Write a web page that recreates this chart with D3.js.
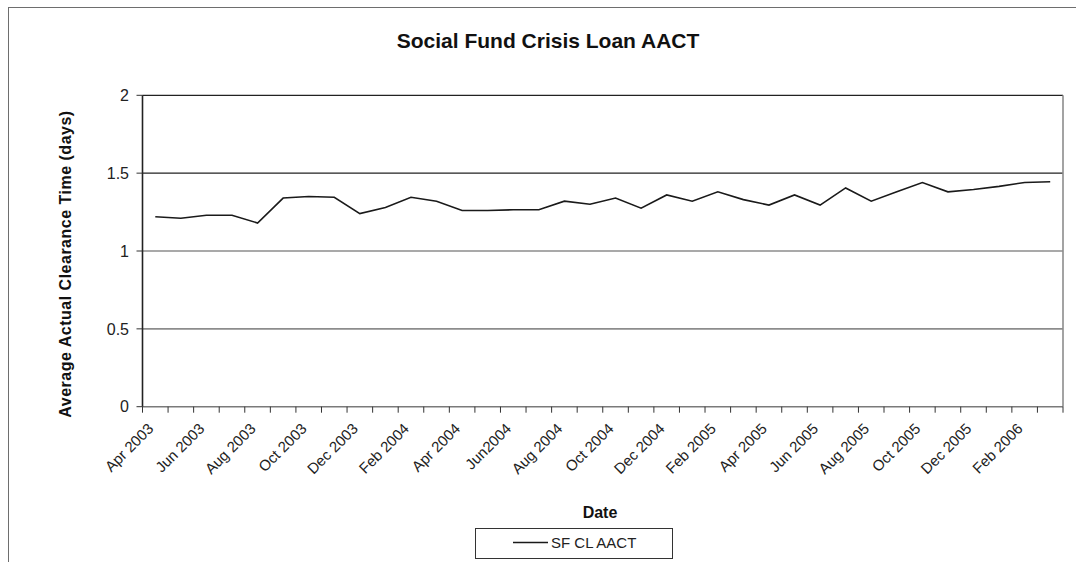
<!DOCTYPE html>
<html lang="en">
  <head>
    <meta charset="UTF-8" />
    <title>Social Fund Crisis Loan AACT</title>
    <script src="https://cdn.jsdelivr.net/npm/d3@7"></script>
    <style>
      body { margin: 0; background: #fff; }
      svg { font-family: "Liberation Sans", Arial, sans-serif; }
    </style>
  </head>
  <body>
    <svg id="chart" width="1076" height="562"></svg>
    <script>
      // monthly categories, Apr 2003 - Mar 2006
      const months = [
        "Apr 2003", "May 2003", "Jun 2003", "Jul 2003", "Aug 2003", "Sep 2003",
        "Oct 2003", "Nov 2003", "Dec 2003", "Jan 2004", "Feb 2004", "Mar 2004",
        "Apr 2004", "May 2004", "Jun2004", "Jul 2004", "Aug 2004", "Sep 2004",
        "Oct 2004", "Nov 2004", "Dec 2004", "Jan 2005", "Feb 2005", "Mar 2005",
        "Apr 2005", "May 2005", "Jun 2005", "Jul 2005", "Aug 2005", "Sep 2005",
        "Oct 2005", "Nov 2005", "Dec 2005", "Jan 2006", "Feb 2006", "Mar 2006"
      ];
      // SF CL AACT (days)
      const aact = [
        1.22, 1.21, 1.23, 1.23, 1.18, 1.34, 1.35, 1.345, 1.24, 1.28, 1.345, 1.32,
        1.26, 1.26, 1.265, 1.265, 1.32, 1.30, 1.34, 1.275, 1.36, 1.32, 1.38, 1.33,
        1.295, 1.36, 1.295, 1.405, 1.32, 1.38, 1.44, 1.38, 1.395, 1.415, 1.44, 1.445
      ];
      const yTicks = [0, 0.5, 1, 1.5, 2];

      const svg = d3.select("#chart");

      const x = d3.scaleBand().domain(months).range([142.5, 1063]).padding(0);
      const y = d3.scaleLinear().domain([0, 2]).range([406.7, 95.3]);
      const cx = (d) => x(d) + x.bandwidth() / 2;

      // chart frame
      svg.append("rect")
        .attr("x", 8.5).attr("y", 7.5)
        .attr("width", 1200).attr("height", 700)
        .attr("fill", "none").attr("stroke", "#6e6e6e");

      // title
      svg.append("text")
        .attr("x", 548).attr("y", 48)
        .attr("text-anchor", "middle")
        .attr("font-size", 21).attr("font-weight", "bold")
        .attr("fill", "#111")
        .text("Social Fund Crisis Loan AACT");

      // gridlines
      svg.append("g").selectAll("line")
        .data(yTicks.filter((d) => d > 0))
        .join("line")
        .attr("x1", 142.5).attr("x2", 1063)
        .attr("y1", (d) => y(d)).attr("y2", (d) => y(d))
        .attr("stroke", (d) => (d >= 1.5 ? "#222" : "#8c8c8c"))
        .attr("stroke-width", (d) => (d >= 1.5 ? 1.2 : 1.6));

      // right border of plot
      svg.append("line")
        .attr("x1", 1063).attr("x2", 1063)
        .attr("y1", y(2)).attr("y2", y(0))
        .attr("stroke", "#8c8c8c").attr("stroke-width", 1.6);

      // x axis
      svg.append("line")
        .attr("x1", 142.5).attr("x2", 1063)
        .attr("y1", y(0)).attr("y2", y(0))
        .attr("stroke", "#7a7a7a").attr("stroke-width", 1.6);

      const xTickPos = months.map((m) => x(m)).concat([x.range()[1]]);
      svg.append("g").selectAll("line")
        .data(xTickPos)
        .join("line")
        .attr("x1", (d) => d).attr("x2", (d) => d)
        .attr("y1", y(0)).attr("y2", y(0) + 6)
        .attr("stroke", "#333").attr("stroke-width", 1);

      svg.append("g").selectAll("text")
        .data(months.filter((m, i) => i % 2 === 0))
        .join("text")
        .attr("transform", (d) => `translate(${cx(d) - 1},${y(0) + 23}) rotate(-45)`)
        .attr("text-anchor", "end")
        .attr("font-size", 15)
        .attr("fill", "#222")
        .text((d) => d);

      // y axis
      svg.append("line")
        .attr("x1", 142.5).attr("x2", 142.5)
        .attr("y1", y(2)).attr("y2", y(0))
        .attr("stroke", "#222").attr("stroke-width", 1.6);

      svg.append("g").selectAll("line")
        .data(yTicks)
        .join("line")
        .attr("x1", 136.5).attr("x2", 142.5)
        .attr("y1", (d) => y(d)).attr("y2", (d) => y(d))
        .attr("stroke", "#333");

      svg.append("g").selectAll("text")
        .data(yTicks)
        .join("text")
        .attr("x", 129).attr("y", (d) => y(d))
        .attr("dy", "0.36em")
        .attr("text-anchor", "end")
        .attr("font-size", 16)
        .attr("fill", "#222")
        .text((d) => d);

      // axis titles
      svg.append("text")
        .attr("transform", "translate(71,264) rotate(-90)")
        .attr("text-anchor", "middle")
        .attr("font-size", 16).attr("font-weight", "bold")
        .attr("letter-spacing", 0.5)
        .attr("fill", "#111")
        .text("Average Actual Clearance Time (days)");

      svg.append("text")
        .attr("x", 600).attr("y", 518)
        .attr("text-anchor", "middle")
        .attr("font-size", 16).attr("font-weight", "bold")
        .attr("fill", "#111")
        .text("Date");

      // series line
      const line = d3.line()
        .x((d, i) => cx(months[i]))
        .y((d) => y(d));

      svg.append("path")
        .datum(aact)
        .attr("d", line)
        .attr("fill", "none")
        .attr("stroke", "#1a1a1a")
        .attr("stroke-width", 1.6)
        .attr("stroke-linejoin", "miter");

      // legend
      const lg = svg.append("g");
      lg.append("rect")
        .attr("x", 475.5).attr("y", 528.5)
        .attr("width", 197).attr("height", 30)
        .attr("fill", "#fff").attr("stroke", "#333");
      lg.append("line")
        .attr("x1", 513).attr("x2", 548)
        .attr("y1", 542.5).attr("y2", 542.5)
        .attr("stroke", "#1a1a1a").attr("stroke-width", 1.6);
      lg.append("text")
        .attr("x", 551).attr("y", 548)
        .attr("font-size", 15)
        .attr("fill", "#222")
        .text("SF CL AACT");
    </script>
  </body>
</html>
